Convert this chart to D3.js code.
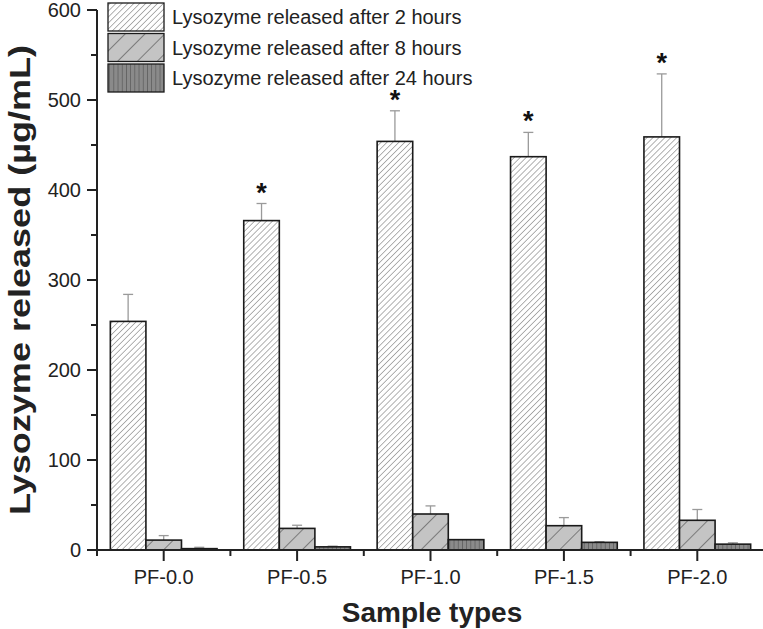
<!DOCTYPE html>
<html><head><meta charset="utf-8">
<script src="https://cdn.jsdelivr.net/npm/d3@7"></script>
<style>body{margin:0;background:#fff}svg{display:block}text{font-family:"Liberation Sans",Arial,sans-serif}</style>
</head><body><svg id="c" width="763" height="629"></svg>
<script>
const categories = ["PF-0.0","PF-0.5","PF-1.0","PF-1.5","PF-2.0"];
const seriesNames = ["Lysozyme released after 2 hours","Lysozyme released after 8 hours","Lysozyme released after 24 hours"];
const values2h = [254, 366, 454, 437, 459];
const err2h = [30, 19, 34, 27, 70];
const values8h = [11, 24, 40, 27, 33];
const err8h = [5, 3.5, 9, 9, 12];
const values24h = [1.5, 3.5, 11.5, 8.5, 6.5];
const err24h = [1.5, 0.8, 0, 0.8, 1.5];
const significant = [false, true, true, true, true];
const yTicks = [0,100,200,300,400,500,600];

const svg = d3.select("#c");
const L = 97, R = 764, T = 10, B = 550;
const x = d3.scaleBand().domain(categories).range([L, R]).paddingInner(0.2).paddingOuter(0.1);
const x0 = d3.scalePoint().domain(categories).range([L, R]).padding(0.5);
const y = d3.scaleLinear().domain([0, 600]).range([B, T]);
const sub = d3.scaleBand().domain([0,1,2]).range([0, x.bandwidth()]);

const defs = svg.append("defs");
function pat(id, spacing, angle, bg, stroke, sw){
  const p = defs.append("pattern").attr("id", id).attr("patternUnits","userSpaceOnUse")
    .attr("width", spacing).attr("height", spacing).attr("patternTransform", `rotate(${angle})`);
  p.append("rect").attr("width", spacing).attr("height", spacing).attr("fill", bg);
  p.append("line").attr("x1",0).attr("y1",0).attr("x2",0).attr("y2",spacing).attr("stroke",stroke).attr("stroke-width",sw);
}
pat("p2", 4.2, 45, "#fff", "#555", 0.9);
pat("p8", 14, 45, "#c4c4c4", "#333", 1);
pat("p24", 4.2, 0, "#8a8a8a", "#444", 1);
const fills = ["url(#p2)","url(#p8)","url(#p24)"];

const series = [values2h, values8h, values24h];
const errs = [err2h, err8h, err24h];

series.forEach((vals, s) => {
  const g = svg.append("g");
  categories.forEach((c, i) => {
    if (errs[s][i] <= 0) return;
    const cx = x(c) + sub(s) + sub.bandwidth()/2;
    const yt = y(vals[i] + errs[s][i]);
    g.append("line").attr("x1",cx).attr("x2",cx).attr("y1",y(vals[i])).attr("y2",yt).attr("stroke","#9a9a9a").attr("stroke-width",1.3);
    g.append("line").attr("x1",cx-5).attr("x2",cx+5).attr("y1",yt).attr("y2",yt).attr("stroke","#9a9a9a").attr("stroke-width",1.3);
  });
});

series.forEach((vals, s) => {
  svg.append("g").selectAll("rect").data(vals).join("rect")
    .attr("x", (d,i) => x(categories[i]) + sub(s))
    .attr("y", d => y(d))
    .attr("width", sub.bandwidth())
    .attr("height", d => B - y(d))
    .attr("fill", fills[s]).attr("stroke", "#1a1a1a").attr("stroke-width", 1.6);
});

svg.append("g").selectAll("text").data(categories.filter((c,i)=>significant[i])).join("text")
  .attr("x", c => x(c) + sub(0) + sub.bandwidth()/2)
  .attr("y", c => { const i = categories.indexOf(c); return y(values2h[i] + err2h[i]) - 2; })
  .attr("text-anchor","middle").attr("font-size", 27).attr("font-weight","bold").attr("fill","#111").text("*");

// y axis
const yAxis = svg.append("g").attr("transform", `translate(${L},0)`);
yAxis.append("line").attr("x1",0).attr("x2",0).attr("y1",T).attr("y2",B).attr("stroke","#222").attr("stroke-width",2);
yTicks.forEach(t => {
  yAxis.append("line").attr("x1",-10).attr("x2",0).attr("y1",y(t)).attr("y2",y(t)).attr("stroke","#222").attr("stroke-width",2);
  yAxis.append("text").attr("x",-16).attr("y",y(t)).attr("dy","0.36em").attr("text-anchor","end").attr("font-size",20).attr("fill","#222").text(t);
});
d3.range(50, 600, 100).forEach(t => {
  yAxis.append("line").attr("x1",-6).attr("x2",0).attr("y1",y(t)).attr("y2",y(t)).attr("stroke","#222").attr("stroke-width",2);
});

// x axis
const xAxis = svg.append("g").attr("transform", `translate(0,${B})`);
xAxis.append("line").attr("x1",L-1).attr("x2",R).attr("y1",0).attr("y2",0).attr("stroke","#222").attr("stroke-width",2);
categories.forEach(c => {
  const cx = x0(c);
  xAxis.append("line").attr("x1",cx).attr("x2",cx).attr("y1",0).attr("y2",11).attr("stroke","#222").attr("stroke-width",2);
  xAxis.append("text").attr("x",cx).attr("y",34).attr("text-anchor","middle").attr("font-size",20).attr("fill","#222").text(c);
});
categories.forEach(c => {
  const bx = x0(c) - x0.step()/2;
  xAxis.append("line").attr("x1",bx).attr("x2",bx).attr("y1",0).attr("y2",6).attr("stroke","#222").attr("stroke-width",2);
});

// axis titles
svg.append("text").attr("x", 432).attr("y", 622).attr("text-anchor","middle").attr("font-size",28).attr("font-weight","bold").attr("fill","#222").text("Sample types");
svg.append("text").attr("transform","translate(30,280) rotate(-90)").attr("text-anchor","middle")
  .attr("font-size",30).attr("font-weight","bold").attr("fill","#222")
  .attr("textLength",470).attr("lengthAdjust","spacingAndGlyphs").text("Lysozyme released (µg/mL)");

// legend
const leg = svg.append("g");
seriesNames.forEach((n, s) => {
  const yy = 3 + s * 30.5;
  leg.append("rect").attr("x",108).attr("y",yy).attr("width",56).attr("height",28).attr("fill",fills[s]).attr("stroke","#1a1a1a").attr("stroke-width",1.3);
  leg.append("text").attr("x",172).attr("y",yy+14).attr("dy","0.36em").attr("font-size",20).attr("fill","#222").text(n);
});
</script></body></html>
